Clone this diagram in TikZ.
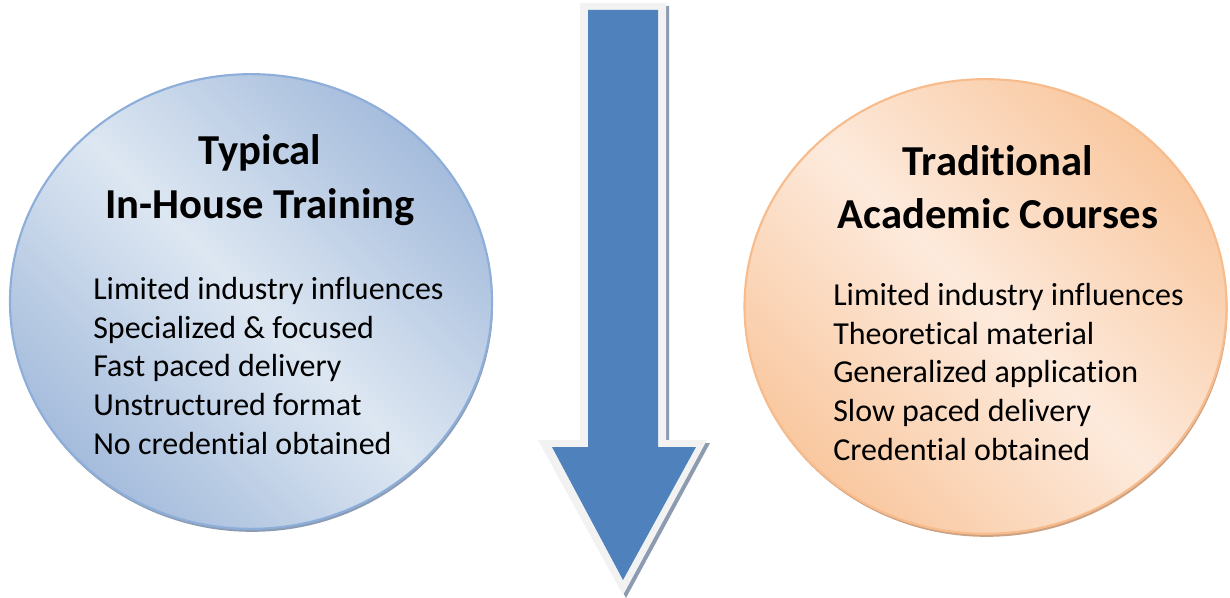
\documentclass[tikz,border=0pt]{standalone}
\usepackage{fontspec}
\setmainfont{Carlito}[Ligatures=NoCommon]
\usetikzlibrary{shapes.geometric}

\definecolor{blueline}{HTML}{8EAEDA}
\definecolor{bluedark}{HTML}{A5BCDC}
\definecolor{bluelight}{HTML}{DDE7F2}
\definecolor{blueshadow}{HTML}{8C9CB4}
\definecolor{peachline}{HTML}{F8BC8C}
\definecolor{peachdark}{HTML}{F9C8A0}
\definecolor{peachlight}{HTML}{FDEADC}
\definecolor{peachshadow}{HTML}{CDA283}
\definecolor{arrowblue}{HTML}{4F81BD}
\definecolor{arrowrim}{HTML}{F2F2F2}
\definecolor{arrowshadow}{HTML}{8D9BB1}

\tikzset{
  oval/.style={ellipse, inner sep=0pt, minimum width=361.5pt, minimum height=341pt},
  blueoval/.style={oval, draw=blueline, line width=1.6pt, shading=axis,
    top color=bluedark, bottom color=bluedark, middle color=bluelight, shading angle=-45},
  peachoval/.style={oval, draw=peachline, line width=1.6pt, shading=axis,
    top color=peachdark, bottom color=peachdark, middle color=peachlight, shading angle=-45},
  title/.style={font=\fontsize{32}{40}\selectfont\bfseries, align=center, inner sep=0pt},
  items/.style={font=\fontsize{24}{29}\selectfont, align=left, inner sep=0pt, anchor=north west},
}

\begin{document}
\begin{tikzpicture}[x=0.75pt, y=-0.75pt]
  \useasboundingbox (0,0) rectangle (1230,598);

  % soft shadows under the two ovals
  \node[oval, fill=blueshadow] (lshadow) at (252,304.5) {};
  \node[oval, fill=peachshadow] (rshadow) at (986.5,309.5) {};

  % the two ovals
  \node[blueoval] (left) at (251,301.5) {};
  \node[peachoval] (right) at (985.5,306.5) {};

  % downward arrow: shadow, light rim, blue body
  \fill[arrowshadow] (583,6) -- (669,6) -- (669,443) -- (710,443) -- (626,598)
        -- (541,443) -- (583,443) -- cycle;
  \fill[arrowrim] (580,3) -- (666,3) -- (666,440) -- (707,440) -- (623,595)
        -- (538,440) -- (580,440) -- cycle;
  \fill[arrowblue] (588,10) -- (658,10) -- (658,447) -- (696,447) -- (623,580)
        -- (552,447) -- (588,447) -- cycle;
  \coordinate (tip) at (623,595);

  % headings
  \node[title] (ltitle) at (260,180) {Typical\\In-House Training};
  \node[title] (rtitle) at (998,187) {Traditional\\Academic Courses};

  % plain lists
  \node[items] (llist) at (93,277) {Limited industry influences\\Specialized \& focused\\Fast paced delivery\\Unstructured format\\No credential obtained};
  \node[items] (rlist) at (833,283) {Limited industry influences\\Theoretical material\\Generalized application\\Slow paced delivery\\Credential obtained};
\end{tikzpicture}
\end{document}
